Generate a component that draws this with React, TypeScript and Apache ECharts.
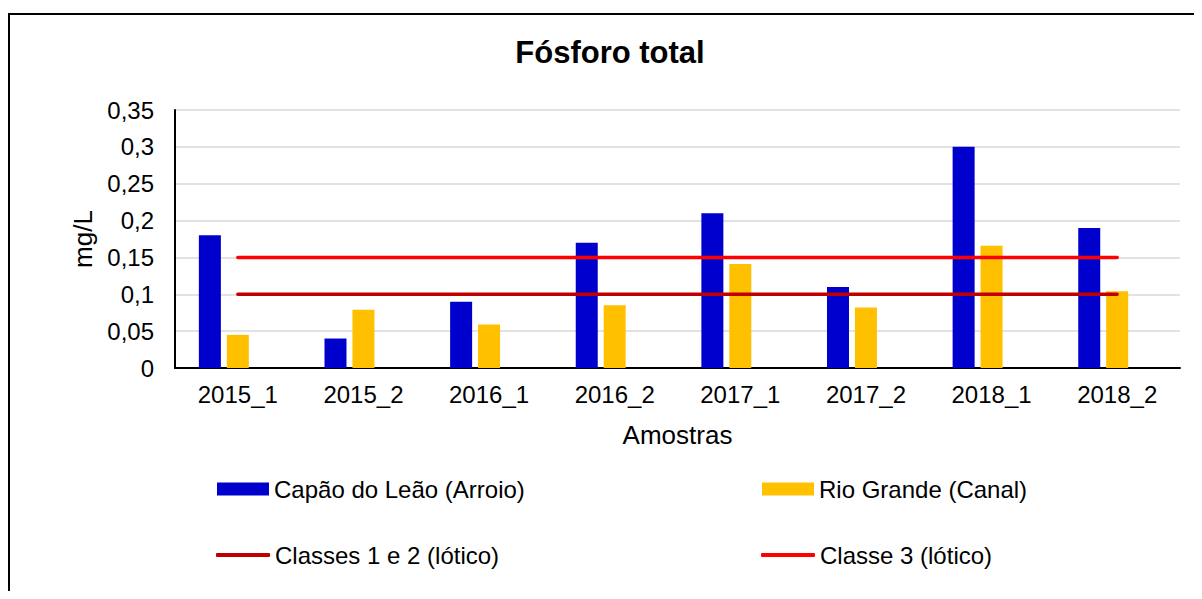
import React, { useEffect, useRef } from "react";
import * as echarts from "echarts";

const categories = ["2015_1", "2015_2", "2016_1", "2016_2", "2017_1", "2017_2", "2018_1", "2018_2"];
const capaoValues = [0.18, 0.04, 0.09, 0.17, 0.21, 0.11, 0.3, 0.19];
const rioGrandeValues = [0.045, 0.079, 0.059, 0.085, 0.141, 0.082, 0.166, 0.104];
const classes12Values = [0.1, 0.1, 0.1, 0.1, 0.1, 0.1, 0.1, 0.1];
const classe3Values = [0.15, 0.15, 0.15, 0.15, 0.15, 0.15, 0.15, 0.15];
const emptySlot = ["-", "-", "-", "-", "-", "-", "-", "-"];

const FONT = "'Liberation Sans', Arial, sans-serif";

export default function App() {
  const ref = useRef<HTMLDivElement>(null);
  useEffect(() => {
    if (!ref.current) return;
    const chart = echarts.init(ref.current, null, { renderer: "svg" });
    const legendText = { fontFamily: FONT, fontSize: 24, color: "#000" };
    chart.setOption({
      animation: false,
      backgroundColor: "#fff",
      textStyle: { fontFamily: FONT },
      graphic: [
        {
          type: "rect",
          shape: { x: 1, y: 6, width: 1400, height: 800 },
          style: { fill: "none", stroke: "#000", lineWidth: 2 },
          silent: true,
          z: 0,
        },
        {
          type: "text",
          x: 602,
          y: 44,
          style: {
            text: "Fósforo total",
            fontFamily: FONT,
            fontSize: 31,
            fontWeight: "bold",
            fill: "#000",
            align: "center",
            verticalAlign: "middle",
          },
        },
      ],
      legend: [
        { left: 209, top: 469, padding: 0, data: ["Capão do Leão (Arroio)"], itemWidth: 52, itemHeight: 13, textStyle: legendText, icon: "rect" },
        { left: 754, top: 469, padding: 0, data: ["Rio Grande (Canal)"], itemWidth: 52, itemHeight: 13, textStyle: legendText, icon: "rect" },
        { left: 208, top: 535, padding: 0, data: ["Classes 1 e 2 (lótico)"], itemWidth: 54, itemHeight: 4, textStyle: legendText, icon: "roundRect" },
        { left: 753, top: 535, padding: 0, data: ["Classe 3 (lótico)"], itemWidth: 54, itemHeight: 4, textStyle: legendText, icon: "roundRect" },
      ],
      grid: { left: 167, right: 14, top: 102, bottom: 231, containLabel: false },
      xAxis: {
        type: "category",
        data: categories,
        name: "Amostras",
        nameLocation: "middle",
        nameGap: 54,
        nameTextStyle: { fontFamily: FONT, fontSize: 26, color: "#000" },
        axisLine: { show: true, lineStyle: { color: "#000", width: 2 } },
        axisTick: { show: false },
        axisLabel: { interval: 0, margin: 14, fontFamily: FONT, fontSize: 24, color: "#000" },
      },
      yAxis: {
        type: "value",
        min: 0,
        max: 0.35,
        interval: 0.05,
        name: "mg/L",
        nameLocation: "middle",
        nameGap: 75,
        nameRotate: 90,
        nameTextStyle: { fontFamily: FONT, fontSize: 26, color: "#000" },
        axisLine: { show: true, lineStyle: { color: "#000", width: 2 } },
        axisTick: { show: false },
        splitLine: { show: true, lineStyle: { color: "#d9d9d9", width: 1.5 } },
        axisLabel: {
          margin: 21,
          fontFamily: FONT,
          fontSize: 24,
          color: "#000",
          formatter: (v: number) => String(+v.toFixed(2)).replace(".", ","),
        },
      },
      series: [
        {
          name: "Capão do Leão (Arroio)",
          type: "bar",
          data: capaoValues,
          barWidth: 22,
          barGap: "27%",
          itemStyle: { color: "#0000CC" },
        },
        {
          name: "Rio Grande (Canal)",
          type: "bar",
          data: rioGrandeValues,
          barWidth: 22,
          barGap: "27%",
          itemStyle: { color: "#FFC000" },
        },
        {
          name: "_slot",
          type: "bar",
          data: emptySlot,
          barWidth: 22,
          barGap: "27%",
          itemStyle: { color: "transparent" },
          silent: true,
        },
        {
          name: "Classes 1 e 2 (lótico)",
          type: "line",
          data: classes12Values,
          symbol: "none",
          lineStyle: { color: "#C00000", width: 3.5, cap: "round" },
          itemStyle: { color: "#C00000" },
          z: 3,
        },
        {
          name: "Classe 3 (lótico)",
          type: "line",
          data: classe3Values,
          symbol: "none",
          lineStyle: { color: "#FF0000", width: 3.5, cap: "round" },
          itemStyle: { color: "#FF0000" },
          z: 3,
        },
      ],
    });
    return () => chart.dispose();
  }, []);
  return <div ref={ref} style={{ width: 1186, height: 591, marginBottom: -8 }} />;
}
